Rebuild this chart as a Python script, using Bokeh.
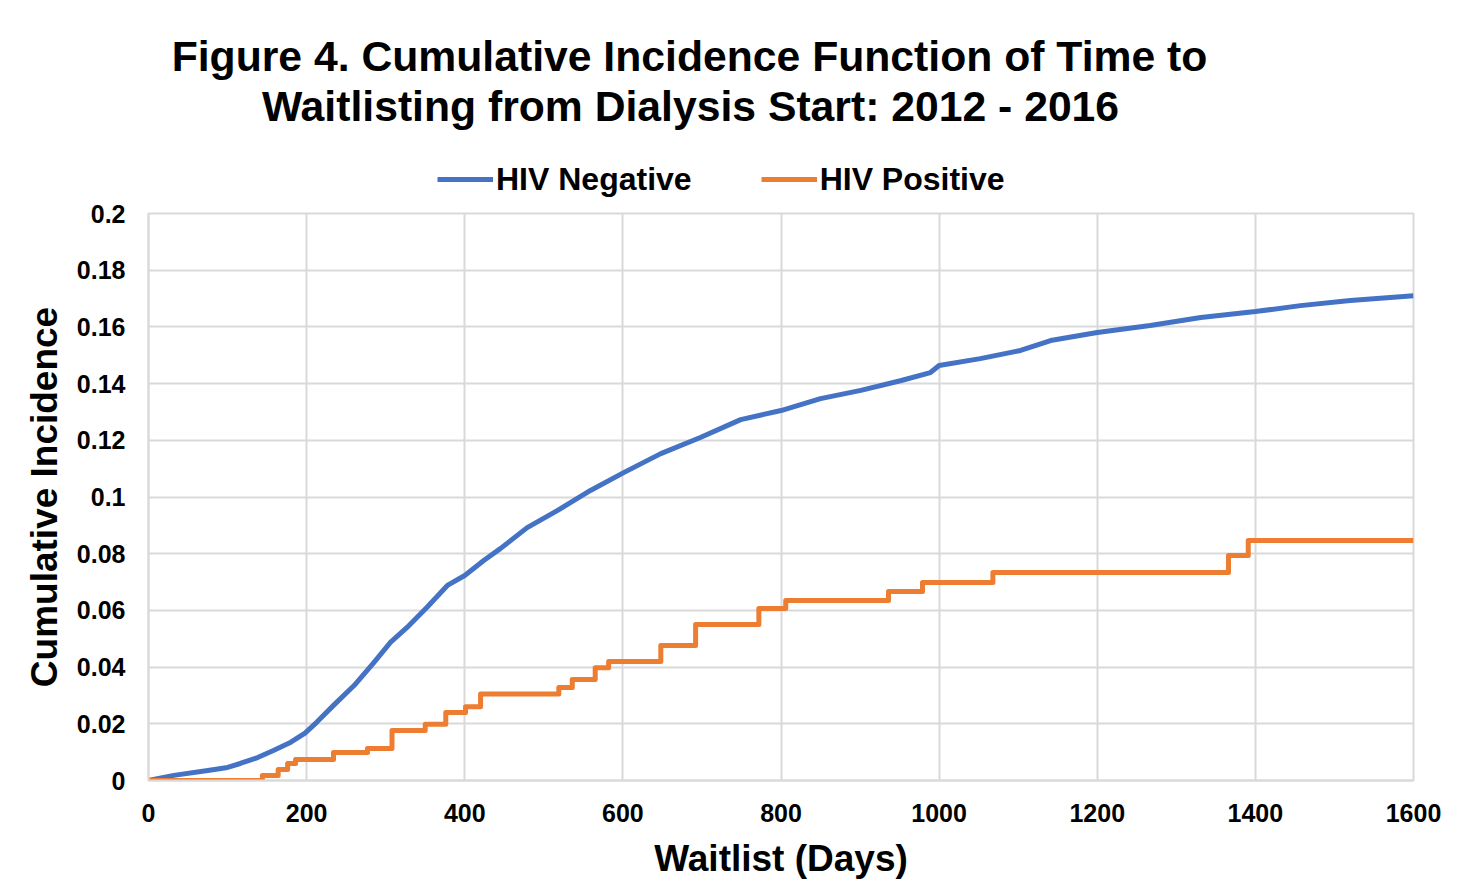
from bokeh.plotting import figure
from bokeh.layouts import column
from bokeh.models import (Range1d, FixedTicker, CustomJSTickFormatter, Label,
                          Legend, LegendItem)
from bokeh.embed import file_html
from bokeh.resources import INLINE

# ---- data ----
days_neg = [0, 32, 75, 100, 116, 138, 158, 180, 198, 213, 234, 260, 285, 306,
            327, 352, 378, 400, 424, 445, 479, 517, 559, 601, 648, 698, 749,
            800, 850, 901, 951, 989, 1000, 1052, 1103, 1141, 1200, 1267, 1331,
            1400, 1457, 1520, 1600]
cif_neg = [0, 0.0018, 0.0035, 0.0046, 0.006, 0.0081, 0.0106, 0.0135, 0.0167,
           0.0206, 0.0265, 0.0335, 0.0416, 0.0487, 0.054, 0.061, 0.0688,
           0.0723, 0.0776, 0.0818, 0.0892, 0.0952, 0.1023, 0.1086, 0.1153,
           0.121, 0.1273, 0.1305, 0.1347, 0.1376, 0.141, 0.1439, 0.1464,
           0.1488, 0.1517, 0.1552, 0.158, 0.1605, 0.1633, 0.1654, 0.1675,
           0.1693, 0.171]

days_pos = [0, 144, 164, 176, 186, 234, 277, 308, 350, 376, 401, 420, 519,
            536, 565, 582, 648, 692, 772, 806, 936, 979, 1068, 1366, 1391, 1600]
cif_pos = [0, 0.0018, 0.0039, 0.006, 0.0074, 0.0099, 0.0113, 0.0176, 0.0198,
           0.024, 0.026, 0.0305, 0.0328, 0.0356, 0.0398, 0.042, 0.0476, 0.055,
           0.0607, 0.0635, 0.0667, 0.0698, 0.0734, 0.0794, 0.0847, 0.0847]

x_ticks = [0, 200, 400, 600, 800, 1000, 1200, 1400, 1600]
y_ticks = [0, 0.02, 0.04, 0.06, 0.08, 0.1, 0.12, 0.14, 0.16, 0.18, 0.2]

title_lines = ["Figure 4. Cumulative Incidence Function of Time to",
               "Waitlisting from Dialysis Start: 2012 - 2016"]
series_names = ["HIV Negative", "HIV Positive"]
x_label = "Waitlist (Days)"
y_label = "Cumulative Incidence"

FONT = "Liberation Sans"
BLUE = "#4472C4"
ORANGE = "#ED7D31"
GRID = "#d9d9d9"

W = 1460
HEAD_H = 198
MAIN_H = 881 - HEAD_H
LEFT = 148            # plot-area left edge (both figures' frames align here)

# ---------------- header: title + legend ----------------
head = figure(width=W, height=HEAD_H, output_backend="svg",
              toolbar_location=None, x_range=Range1d(0, 1), y_range=Range1d(0, 1),
              min_border_left=LEFT, min_border_right=47, min_border_top=0,
              min_border_bottom=0, x_axis_location=None, y_axis_location=None)
head.grid.visible = False
head.outline_line_color = None
head.background_fill_color = "white"
head.border_fill_color = "white"

for line, cx, top in ((title_lines[0], 689, 55), (title_lines[1], 690, 105)):
    head.add_layout(Label(x=cx - LEFT, y=HEAD_H - top, x_units="screen",
                          y_units="screen", text=line, text_align="center",
                          text_baseline="alphabetic", text_font=FONT,
                          text_font_style="bold", text_font_size="42.7px",
                          text_color="black"))

# key-only renderers (a single point each: nothing is drawn in the header)
key_neg = head.line(days_neg[:1], cif_neg[:1], line_color=BLUE, line_width=5)
key_pos = head.line(days_pos[:1], cif_pos[:1], line_color=ORANGE, line_width=5)
legend = Legend(items=[LegendItem(label=series_names[0], renderers=[key_neg]),
                       LegendItem(label=series_names[1], renderers=[key_pos])],
                orientation="horizontal", location=(437 - LEFT, HEAD_H - 199),
                glyph_width=56, glyph_height=40, label_height=40,
                label_standoff=3, spacing=69, padding=0, margin=0,
                border_line_color=None, background_fill_alpha=0,
                label_text_font=FONT, label_text_font_style="bold",
                label_text_font_size="32px", label_text_color="black")
head.add_layout(legend, "center")

# ---------------- main chart ----------------
p = figure(width=W, height=MAIN_H, output_backend="svg", toolbar_location=None,
           x_range=Range1d(x_ticks[0], x_ticks[-1]),
           y_range=Range1d(y_ticks[0], y_ticks[-1]),
           min_border_left=LEFT, min_border_right=47, min_border_top=213 - HEAD_H,
           min_border_bottom=101)
p.background_fill_color = "white"
p.border_fill_color = "white"
p.outline_line_color = GRID
p.outline_line_width = 2

p.xgrid.ticker = FixedTicker(ticks=x_ticks)
p.ygrid.ticker = FixedTicker(ticks=y_ticks)
for g in (p.xgrid, p.ygrid):
    g.grid_line_color = GRID
    g.grid_line_width = 2

p.xaxis.ticker = FixedTicker(ticks=x_ticks)
p.yaxis.ticker = FixedTicker(ticks=y_ticks)
p.yaxis.formatter = CustomJSTickFormatter(
    code="return String(Math.round(tick*100)/100);")
for ax in (p.xaxis, p.yaxis):
    ax.axis_line_color = GRID
    ax.axis_line_width = 2
    ax.major_tick_line_color = None
    ax.minor_tick_line_color = None
    ax.major_label_text_font = FONT
    ax.major_label_text_font_style = "bold"
    ax.major_label_text_font_size = "25px"
    ax.major_label_text_color = "black"
    ax.axis_label_text_font = FONT
    ax.axis_label_text_font_style = "bold"
    ax.axis_label_text_font_size = "37px"
    ax.axis_label_text_color = "black"
p.xaxis.axis_label = x_label
p.yaxis.axis_label = y_label
p.xaxis.major_label_standoff = 17
p.xaxis.axis_label_standoff = 13
p.yaxis.major_label_standoff = 17
p.yaxis.axis_label_standoff = 9

p.line(days_neg, cif_neg, line_color=BLUE, line_width=5, line_join="round")
p.step(days_pos, cif_pos, mode="after", line_color=ORANGE, line_width=5,
       line_join="round")

open("out.html", "w").write(file_html(column(head, p, spacing=0), INLINE))
